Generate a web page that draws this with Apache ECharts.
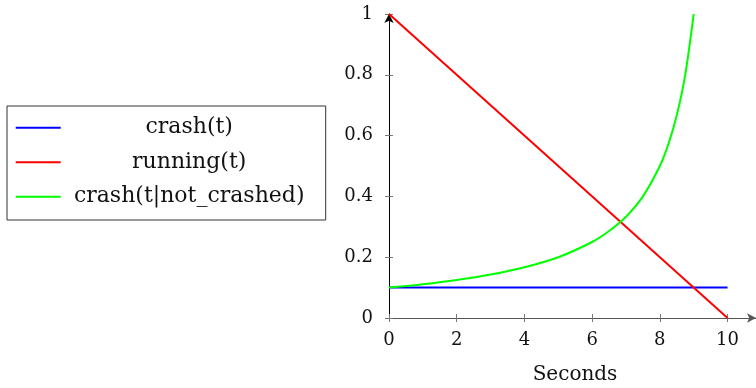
<!DOCTYPE html>
<html>
<head>
<meta charset="utf-8">
<script src="https://cdn.jsdelivr.net/npm/echarts@6/dist/echarts.min.js"></script>
<style>
html,body{margin:0;padding:0;background:#fff;}
#c{width:756px;height:388px;}
</style>
</head>
<body>
<div id="c"></div>
<script>
const seriesNames = ['crash(t)', 'running(t)', 'crash(t|not_crashed)'];
const crashT = [0, 10];
const crashV = [0.1, 0.1];
const runningT = [0, 10];
const runningV = [1, 0];
const condT = [0, 1, 2, 3, 4, 5, 6, 6.5, 7, 7.5, 8, 8.25, 8.5, 8.75, 9];
const condV = [0.1, 0.111, 0.125, 0.143, 0.167, 0.2, 0.25, 0.286, 0.333, 0.4, 0.5, 0.571, 0.667, 0.8, 1.0];
const xTicks = [0, 2, 4, 6, 8, 10];
const yTicks = [0, 0.2, 0.4, 0.6, 0.8, 1];
const xTitle = 'Seconds';

const zip = (a, b) => a.map((v, i) => [v, b[i]]);
const font = "'DejaVu Serif', serif";
const chart = echarts.init(document.getElementById('c'));

const baseX = {
  type: 'value', min: 0, max: 10.84,
  splitLine: {show: false}
};
const baseY = {
  type: 'value', min: 0, max: 1,
  splitLine: {show: false}
};

chart.setOption({
  animation: false,
  textStyle: {fontFamily: font},
  grid: {left: 389, right: 0, top: 14, bottom: 70, containLabel: false, outerBoundsMode: 'none'},
  legend: {
    orient: 'vertical', left: 7, top: 106,
    data: seriesNames,
    itemWidth: 45, itemHeight: 2, itemGap: 8.5, itemTextGap: 5,
    padding: [8.7, 13, 10.3, 8.7],
    borderColor: '#333', borderWidth: 1,
    icon: 'rect',
    formatter: n => '{a|' + n + '}',
    textStyle: {
      fontFamily: font, fontSize: 22, color: '#111',
      rich: {a: {width: 247, align: 'center', fontFamily: font, fontSize: 22, color: '#111', lineHeight: 26, height: 26}}
    }
  },
  xAxis: [
    Object.assign({}, baseX, {
      name: xTitle, nameLocation: 'middle', nameGap: 47,
      nameTextStyle: {fontFamily: font, fontSize: 20, color: '#111', padding: [0, 0, 0, 5]},
      axisLine: {lineStyle: {color: '#555', width: 1}, symbol: ['none', 'arrow'], symbolSize: [7, 9]},
      axisTick: {customValues: xTicks, length: 4, lineStyle: {color: '#777'}},
      axisLabel: {customValues: xTicks, fontFamily: font, fontSize: 18, color: '#111', margin: 13}
    }),
    Object.assign({}, baseX, {
      position: 'bottom',
      axisLine: {show: false},
      axisTick: {customValues: xTicks, inside: true, length: 4, lineStyle: {color: '#777'}},
      axisLabel: {show: false}
    })
  ],
  yAxis: [
    Object.assign({}, baseY, {
      axisLine: {show: true, lineStyle: {color: '#000', width: 1}, symbol: ['none', 'arrow'], symbolSize: [7, 9]},
      axisTick: {customValues: yTicks, length: 4, lineStyle: {color: '#777'}},
      axisLabel: {customValues: yTicks, fontFamily: font, fontSize: 18, color: '#111', margin: 16, padding: [3, 0, 0, 0]}
    }),
    Object.assign({}, baseY, {
      position: 'left',
      axisLine: {show: false},
      axisTick: {customValues: yTicks, inside: true, length: 4, lineStyle: {color: '#777'}},
      axisLabel: {show: false}
    })
  ],
  series: [
    {name: seriesNames[0], type: 'line', data: zip(crashT, crashV), showSymbol: false,
     lineStyle: {color: '#0000ff', width: 2}, itemStyle: {color: '#0000ff'}, z: 3},
    {name: seriesNames[1], type: 'line', data: zip(runningT, runningV), showSymbol: false,
     lineStyle: {color: '#ff0000', width: 2}, itemStyle: {color: '#ff0000'}, z: 4},
    {name: seriesNames[2], type: 'line', data: zip(condT, condV), showSymbol: false, smooth: 0.3,
     lineStyle: {color: '#00ff00', width: 2}, itemStyle: {color: '#00ff00'}, z: 5}
  ]
});
</script>
</body>
</html>
